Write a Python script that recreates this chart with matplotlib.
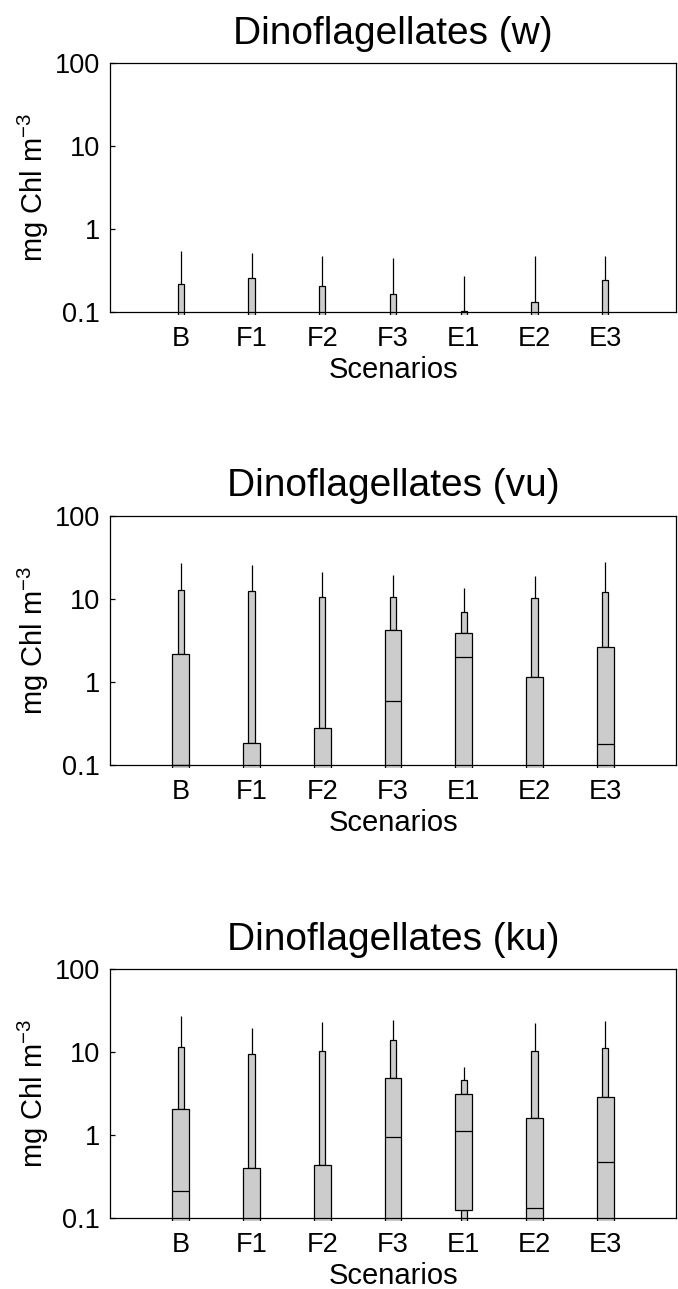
import matplotlib
matplotlib.use("Agg")
import matplotlib.pyplot as plt
from matplotlib.transforms import Bbox, TransformedBbox

plt.rcParams['font.family'] = ['Liberation Sans', 'DejaVu Sans']
plt.rcParams['mathtext.fontset'] = 'custom'
plt.rcParams['mathtext.rm'] = 'Liberation Sans'
plt.rcParams['mathtext.it'] = 'Liberation Sans:italic'

scenarios = ['B', 'F1', 'F2', 'F3', 'E1', 'E2', 'E3']
regions = ['w', 'vu', 'ku']

# Percentile summaries per region (mg Chl m^-3): 10th, 25th, median, 75th, 90th, max
p10 = {
    'w':  [0.005, 0.005, 0.005, 0.005, 0.005, 0.005, 0.005],
    'vu': [0.02, 0.01, 0.01, 0.03, 0.05, 0.02, 0.02],
    'ku': [0.02, 0.01, 0.01, 0.03, 0.05, 0.02, 0.02],
}
p25 = {
    'w':  [0.01, 0.01, 0.01, 0.01, 0.01, 0.01, 0.01],
    'vu': [0.05, 0.03, 0.03, 0.06, 0.08, 0.04, 0.05],
    'ku': [0.05, 0.03, 0.03, 0.06, 0.124, 0.04, 0.05],
}
p50 = {
    'w':  [0.02, 0.02, 0.02, 0.02, 0.02, 0.02, 0.02],
    'vu': [0.1, 0.05, 0.05, 0.59, 2.0, 0.08, 0.182],
    'ku': [0.212, 0.05, 0.05, 0.944, 1.13, 0.131, 0.466],
}
p75 = {
    'w':  [0.05, 0.05, 0.05, 0.05, 0.05, 0.05, 0.05],
    'vu': [2.2, 0.186, 0.281, 4.25, 3.91, 1.15, 2.63],
    'ku': [2.08, 0.394, 0.437, 4.87, 3.12, 1.60, 2.87],
}
p90 = {
    'w':  [0.217, 0.26, 0.206, 0.165, 0.105, 0.134, 0.248],
    'vu': [12.9, 12.5, 10.6, 10.6, 7.0, 10.3, 12.2],
    'ku': [11.6, 9.58, 10.2, 13.9, 4.60, 10.4, 11.2],
}
pmax = {
    'w':  [0.548, 0.52, 0.48, 0.456, 0.27, 0.477, 0.473],
    'vu': [27.0, 25.3, 21.0, 19.5, 13.7, 19.1, 28.0],
    'ku': [27.2, 19.6, 23.1, 24.4, 6.6, 22.5, 23.8],
}

yticks = [0.1, 1, 10, 100]
ytick_labels = ['0.1', '1', '10', '100']

fig = plt.figure(figsize=(6.78, 12.89), dpi=100)
W, H = 678.0, 1289.0
ax_left, ax_right = 110.0, 676.0
ax_tops = [63.3, 515.7, 969.3]
ax_bottoms = [312.3, 765.3, 1217.7]

wide = 0.24
narrow = 0.085
fill = '#cccccc'
lw = 0.9

x = list(range(1, len(scenarios) + 1))

for i, reg in enumerate(regions):
    top, bot = ax_tops[i], ax_bottoms[i]
    ax = fig.add_axes([ax_left / W, 1 - bot / H, (ax_right - ax_left) / W, (bot - top) / H])
    ax.set_yscale('log')
    ax.set_ylim(0.1, 100)
    ax.set_xlim(0, 8)

    # bars may spill a few pixels under the bottom frame line
    clip = TransformedBbox(Bbox([[0, -0.012], [1, 1]]), ax.transAxes)

    lo = p10[reg]; q1 = p25[reg]; med = p50[reg]; q3 = p75[reg]; hi = p90[reg]; mx = pmax[reg]
    arts = []
    # whiskers from 90th percentile up to the maximum
    arts.append(ax.vlines(x, hi, mx, colors='black', linewidth=lw, zorder=1))
    # narrow boxes: 10th-25th and 75th-90th percentiles
    arts += list(ax.bar(x, [b - a for a, b in zip(lo, q1)], bottom=lo, width=narrow,
                        color=fill, edgecolor='black', linewidth=lw, zorder=2))
    arts += list(ax.bar(x, [b - a for a, b in zip(q3, hi)], bottom=q3, width=narrow,
                        color=fill, edgecolor='black', linewidth=lw, zorder=2))
    # wide interquartile boxes
    arts += list(ax.bar(x, [b - a for a, b in zip(q1, q3)], bottom=q1, width=wide,
                        color=fill, edgecolor='black', linewidth=lw, zorder=3))
    # medians
    arts.append(ax.hlines(med, [v - wide / 2 for v in x], [v + wide / 2 for v in x],
                          colors='black', linewidth=lw, zorder=4))
    for a in arts:
        a.set_clip_box(clip)

    ax.set_yticks(yticks)
    ax.set_yticklabels(ytick_labels)
    ax.yaxis.set_minor_locator(matplotlib.ticker.NullLocator())
    ax.set_xticks(x)
    ax.set_xticklabels(scenarios)
    ax.tick_params(axis='y', direction='in', length=3.6, width=lw, labelsize=19.5, pad=7, right=False)
    ax.tick_params(axis='x', length=0, labelsize=19.5, pad=10)
    for s in ax.spines.values():
        s.set_linewidth(lw)
        s.set_zorder(5)

    ax.set_xlabel('Scenarios', fontsize=21, labelpad=3)
    ax.set_ylabel(r'mg Chl m$^{-3}$', fontsize=21, labelpad=3)
    ax.set_title('Dinoflagellates (%s)' % reg, fontsize=28, pad=14)

fig.savefig('out.png', dpi=100)
